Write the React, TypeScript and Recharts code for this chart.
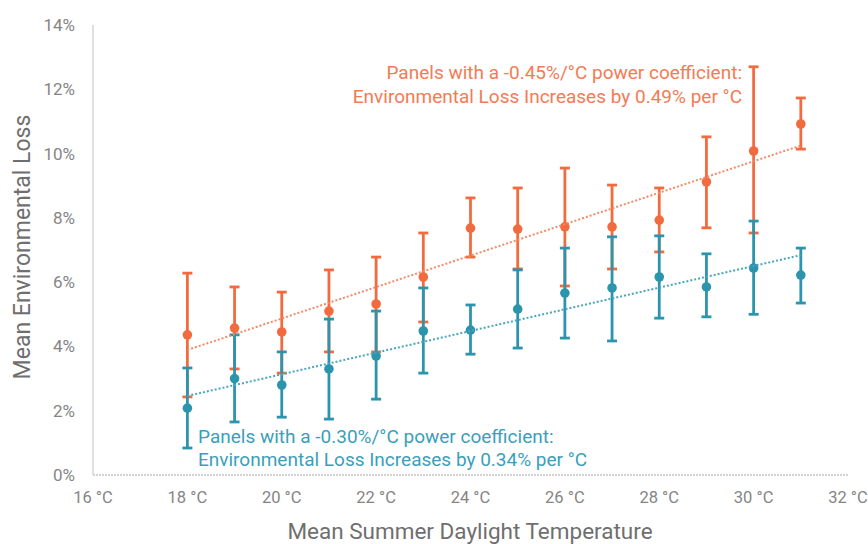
import { ErrorBar, Scatter, ScatterChart, XAxis, YAxis } from 'recharts'

document.body.style.margin = '0'

// temperatures (°C)
const temps = [18, 19, 20, 21, 22, 23, 24, 25, 26, 27, 28, 29, 30, 31]

// -0.45%/°C panels
const orangeMean = [4.36, 4.57, 4.45, 5.1, 5.32, 6.16, 7.68, 7.65, 7.72, 7.72, 7.93, 9.12, 10.08, 10.92]
const orangeHigh = [6.28, 5.85, 5.69, 6.38, 6.78, 7.53, 8.62, 8.93, 9.55, 9.02, 8.93, 10.52, 12.7, 11.73]
const orangeLow = [2.43, 3.3, 3.17, 3.83, 3.83, 4.76, 6.78, 6.41, 5.88, 6.41, 6.94, 7.69, 7.53, 10.14]

// -0.30%/°C panels
const tealMean = [2.08, 3.0, 2.8, 3.3, 3.7, 4.48, 4.51, 5.16, 5.66, 5.82, 6.16, 5.85, 6.44, 6.22]
const tealHigh = [3.33, 4.36, 3.83, 4.85, 5.1, 5.82, 5.29, 6.38, 7.06, 7.41, 7.44, 6.88, 7.9, 7.06]
const tealLow = [0.84, 1.65, 1.8, 1.74, 2.36, 3.17, 3.76, 3.95, 4.26, 4.17, 4.88, 4.92, 5.0, 5.35]

// linear trend end points
const trendX = [18, 31]
const orangeTrend = [3.89, 10.25]
const tealTrend = [2.46, 6.84]

const xTicks = [16, 18, 20, 22, 24, 26, 28, 30, 32]
const yTicks = [0, 2, 4, 6, 8, 10, 12, 14]

const ORANGE = '#f26b3f'
const TEAL = '#2c94ac'
const GREY = '#858585'
const FONT = 'Roboto, sans-serif'

const build = (mean: number[], hi: number[], lo: number[]) =>
    temps.map((t, i) => ({ x: t, y: mean[i], err: [mean[i] - lo[i], hi[i] - mean[i]] }))

const orangeData = build(orangeMean, orangeHigh, orangeLow)
const tealData = build(tealMean, tealHigh, tealLow)
const orangeLine = trendX.map((x, i) => ({ x, y: orangeTrend[i] }))
const tealLine = trendX.map((x, i) => ({ x, y: tealTrend[i] }))

const dot = (color: string) => (p: any) => <circle cx={p.cx} cy={p.cy} r={4.8} fill={color} />
const none = () => <g />

export default function App() {
    return (
        <div style={{ position: 'relative', width: 868, height: 544, fontFamily: FONT, background: '#fff' }}>
            <ScatterChart width={868} height={544} margin={{ top: 25, right: 20, bottom: 0, left: 0 }}>
                <XAxis
                    type='number'
                    dataKey='x'
                    domain={[16, 32]}
                    ticks={xTicks}
                    tickFormatter={(v) => `${v} °C`}
                    height={69}
                    tickLine={false}
                    tickSize={0}
                    tickMargin={16}
                    axisLine={{ stroke: '#c4c4c4', strokeDasharray: '2 1', strokeWidth: 1.5 }}
                    tick={{ fill: GREY, fontSize: 16.5, fontFamily: FONT }}
                />
                <YAxis
                    type='number'
                    dataKey='y'
                    domain={[0, 14]}
                    ticks={yTicks}
                    tickFormatter={(v) => `${v}%`}
                    width={93}
                    tickLine={false}
                    tickSize={0}
                    tickMargin={18}
                    axisLine={{ stroke: '#d6d6d6', strokeWidth: 1.5 }}
                    tick={{ fill: GREY, fontSize: 17, fontFamily: FONT }}
                />
                <Scatter data={orangeData} shape={dot(ORANGE)} isAnimationActive={false}>
                    <ErrorBar dataKey='err' direction='y' width={5} stroke={ORANGE} strokeWidth={2.8} isAnimationActive={false} />
                </Scatter>
                <Scatter data={tealData} shape={dot(TEAL)} isAnimationActive={false}>
                    <ErrorBar dataKey='err' direction='y' width={5} stroke={TEAL} strokeWidth={2.8} isAnimationActive={false} />
                </Scatter>
                <Scatter
                    data={orangeLine}
                    shape={none}
                    line={{ stroke: '#f58a66', strokeWidth: 2, strokeDasharray: '2 2' }}
                    isAnimationActive={false}
                />
                <Scatter
                    data={tealLine}
                    shape={none}
                    line={{ stroke: '#4aa6bd', strokeWidth: 2, strokeDasharray: '2 2' }}
                    isAnimationActive={false}
                />
            </ScatterChart>

            <div style={{ position: 'absolute', right: 126, top: 61, textAlign: 'right', color: '#f47b55', fontSize: 19, lineHeight: '24px', whiteSpace: 'nowrap' }}>
                Panels with a -0.45%/°C power coefficient:
                <br />
                Environmental Loss Increases by 0.49% per °C
            </div>
            <div style={{ position: 'absolute', left: 198, top: 425, color: '#3a9fba', fontSize: 19, lineHeight: '23px', whiteSpace: 'nowrap' }}>
                Panels with a -0.30%/°C power coefficient:
                <br />
                Environmental Loss Increases by 0.34% per °C
            </div>
            <div style={{ position: 'absolute', left: 0, width: 940, top: 518, textAlign: 'center', color: '#6f6f6f', fontSize: 22.5, whiteSpace: 'nowrap' }}>
                Mean Summer Daylight Temperature
            </div>
            <div
                style={{
                    position: 'absolute',
                    left: 22,
                    top: 247,
                    transform: 'translate(-50%, -50%) rotate(-90deg)',
                    color: '#6f6f6f',
                    fontSize: 23,
                    whiteSpace: 'nowrap',
                }}
            >
                Mean Environmental Loss
            </div>
        </div>
    )
}
